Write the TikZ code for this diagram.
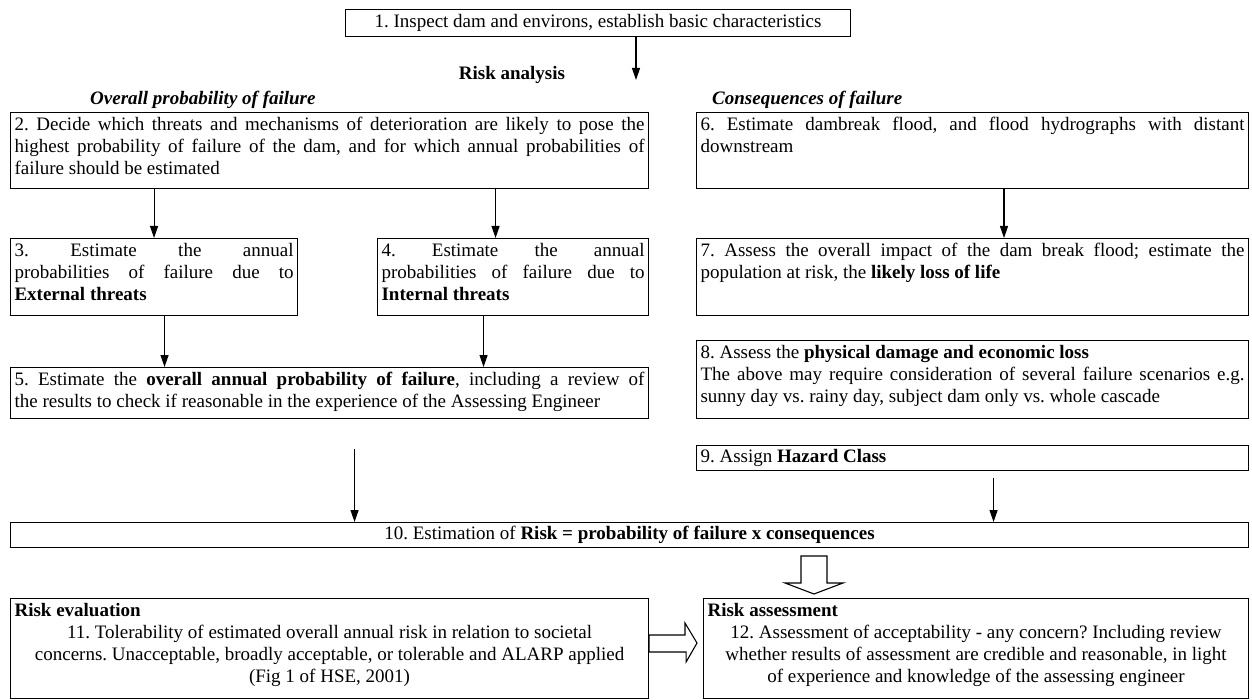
\documentclass[tikz,border=0pt]{standalone}
\usepackage{fontspec}
\setmainfont{Liberation Serif}
\usetikzlibrary{arrows.meta}
\frenchspacing
\newcommand{\boxtext}[3]{\parbox[t][#2pt][t]{#1pt}{#3}}
\tikzset{
  stagebox/.style={draw, line width=1.1pt, anchor=north west, inner xsep=4pt, inner ysep=5pt},
  flow/.style={line width=1.1pt, -{Triangle[length=12pt,width=8pt]}},
  hollow/.style={draw, line width=1.1pt, fill=white, line join=miter},
  heading/.style={inner sep=0pt, font=\fontsize{19}{22}\selectfont\bfseries}
}

\begin{document}
\begin{tikzpicture}[x=1pt, y=-1pt, font=\fontsize{19}{22}\selectfont]
\useasboundingbox (0,0) rectangle (1252,700);

\node[stagebox, minimum width=505pt, minimum height=27pt, inner ysep=0pt] (b1) at (345,9) {1. Inspect dam and environs, establish basic characteristics};
\node[heading] (hrisk) at (512,75) {Risk analysis};
\node[heading, anchor=west, font=\fontsize{19}{22}\selectfont\bfseries\itshape] (hprob) at (90,100) {Overall probability of failure};
\node[heading, anchor=west, font=\fontsize{19}{22}\selectfont\bfseries\itshape] (hcons) at (712,100) {Consequences of failure};

\node[stagebox] (b2) at (10,112) {\boxtext{630}{66}{2. Decide which threats and mechanisms of deterioration are likely to pose the\linebreak highest probability of failure of the dam, and for which annual probabilities of\linebreak failure should be estimated}};
\node[stagebox] (b3) at (10,238) {\boxtext{279}{67}{3. Estimate the annual\linebreak probabilities of failure due to\linebreak \textbf{External threats}}};
\node[stagebox] (b4) at (377,238) {\boxtext{263}{67}{4. Estimate the annual\linebreak probabilities of failure due to\linebreak \textbf{Internal threats}}};
\node[stagebox] (b5) at (10,367) {\boxtext{630}{41}{5. Estimate the \textbf{overall annual probability of failure}, including a review of\linebreak the results to check if reasonable in the experience of the Assessing Engineer}};

\node[stagebox] (b6) at (696,112) {\boxtext{544}{66}{6. Estimate dambreak flood, and flood hydrographs with distant\linebreak downstream}};
\node[stagebox] (b7) at (696,238) {\boxtext{544}{67}{7. Assess the overall impact of the dam break flood; estimate the\linebreak population at risk, the \textbf{likely loss of life}}};
\node[stagebox] (b8) at (696,340) {\boxtext{544}{68}{8. Assess the \textbf{physical damage and economic loss}\\ The above may require consideration of several failure scenarios e.g.\linebreak sunny day vs. rainy day, subject dam only vs. whole cascade}};
\node[stagebox, inner ysep=4pt] (b9) at (696,445) {\boxtext{544}{17}{9. Assign \textbf{Hazard Class}}};

\node[stagebox, minimum width=1238pt, minimum height=25pt, inner ysep=0pt] (b10) at (10,522) {10. Estimation of \textbf{Risk = probability of failure x consequences}};

\node[stagebox] (b11) at (10,598) {\boxtext{630}{90}{\textbf{Risk evaluation}\par\centering 11. Tolerability of estimated overall annual risk in relation to societal\\ concerns. Unacceptable, broadly acceptable, or tolerable and ALARP applied\\ (Fig 1 of HSE, 2001)}};
\node[stagebox] (b12) at (703,598) {\boxtext{537}{90}{\textbf{Risk assessment}\par\centering 12. Assessment of acceptability - any concern? Including review\\ whether results of assessment are credible and reasonable, in light\\ of experience and knowledge of the assessing engineer}};

\coordinate (a1) at (636,80);
\draw[flow] (b1.south -| a1) -- (a1);
\draw[flow] (b2.south -| b3.north) -- (b3.north);
\draw[flow] ([xshift=-17.5pt]b4.north |- b2.south) -- ([xshift=-17.5pt]b4.north);
\draw[flow] (b6.south -| 1004,0) -- (b7.north -| 1004,0);
\draw[flow] ([xshift=10.5pt]b3.south) -- ([xshift=10.5pt]b3.south |- b5.north);
\draw[flow] ([xshift=-29.5pt]b4.south) -- ([xshift=-29.5pt]b4.south |- b5.north);
\draw[flow, shorten <=30pt] ([xshift=25pt]b5.south) -- ([xshift=25pt]b5.south |- b10.north);
\draw[flow, shorten <=7pt] ([xshift=21pt]b9.south) -- ([xshift=21pt]b9.south |- b10.north);

\coordinate (dtip) at (814,594);
\draw[hollow] (dtip) -- ++(-29,-11) -- ++(16,0) -- ++(0,-27) -- ++(26,0) -- ++(0,27) -- ++(16,0) -- cycle;
\coordinate (rtip) at (697,643);
\draw[hollow] (rtip) -- ++(-12,-20) -- ++(0,12) -- (b11.east |- 0,635) -- (b11.east |- 0,652) -- ++(37,0) -- ++(0,10) -- cycle;
\end{tikzpicture}
\end{document}
